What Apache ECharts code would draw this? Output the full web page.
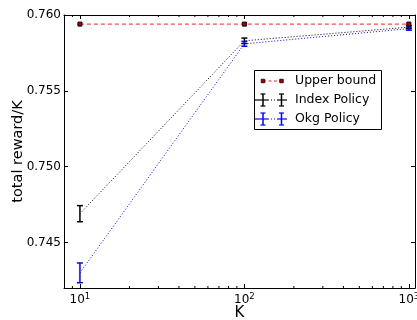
<!DOCTYPE html>
<html><head><meta charset="utf-8">
<script src="https://cdn.jsdelivr.net/npm/echarts@6/dist/echarts.min.js"></script>
<style>html,body{margin:0;padding:0;background:#fff}#c{width:417px;height:320px}</style>
</head><body><div id="c"></div>
<script>
const kValues = [10, 100, 1000];
const upperBound = [0.7594, 0.7594, 0.7594];
const indexMean = [0.7469, 0.7583, 0.7592];
const indexErr = [0.00053, 0.00018, 0.0001];
const okgMean = [0.7430, 0.7581, 0.7591];
const okgErr = [0.00065, 0.00016, 0.0001];
const yTicks = [0.745, 0.750, 0.755, 0.760];
const xMinorTicks = [9, 20, 30, 40, 50, 60, 70, 80, 90, 200, 300, 400, 500, 600, 700, 800, 900];
const legendNames = ['Upper bound', 'Index Policy', 'Okg Policy'];

const FONT = 'DejaVu Sans';
const X_MIN = 8, X_MAX = 1090, Y_MIN = 0.742, Y_MAX = 0.760;
const C_UB = '#ee2222', C_IDX = '#000000', C_OKG = '#0000ff';

function pairs(xs, ys) { return xs.map((x, i) => [x, ys[i]]); }
function triples(xs, ys, es) { return xs.map((x, i) => [x, ys[i], es[i]]); }

function errRender(color) {
  return function (params, api) {
    const x = api.value(0), y = api.value(1), e = api.value(2);
    const t = api.coord([x, y + e]), b = api.coord([x, y - e]);
    const w = 3;
    const st = { stroke: color, lineWidth: 1.5 };
    return { type: 'group', children: [
      { type: 'line', shape: { x1: t[0], y1: t[1], x2: b[0], y2: b[1] }, style: st },
      { type: 'line', shape: { x1: t[0] - w, y1: t[1], x2: t[0] + w, y2: t[1] }, style: st },
      { type: 'line', shape: { x1: b[0] - w, y1: b[1], x2: b[0] + w, y2: b[1] }, style: st }
    ]};
  };
}

function minorRender(params, api) {
  const cs = params.coordSys;
  const x = api.coord([api.value(0), Y_MIN])[0];
  const st = { stroke: '#000', lineWidth: 1 };
  return { type: 'group', children: [
    { type: 'line', shape: { x1: x, y1: cs.y + cs.height, x2: x, y2: cs.y + cs.height - 2 }, style: st },
    { type: 'line', shape: { x1: x, y1: cs.y, x2: x, y2: cs.y + 2 }, style: st }
  ]};
}

// ---- legend drawn as graphic (box + icons + real text) ----
const LG = { x: 254, y: 70, w: 127, h: 59, rows: [81, 100, 119], m1: 263, m2: 281.5, textX: 295 };
function lineEl(x1, y1, x2, y2, color, w, dash) {
  return { type: 'line', z: 101, shape: { x1, y1, x2, y2 }, style: { stroke: color, lineWidth: w, lineDash: dash || null } };
}
function crossIcon(cy, color) {
  const els = [
    lineEl(255, cy, 268, cy, color, 1.2),
    lineEl(268, cy, 277, cy, color, 1, [1, 2]),
    lineEl(277, cy, 287, cy, color, 1.2)
  ];
  [LG.m1, LG.m2].forEach(mx => {
    els.push(lineEl(mx, cy - 6, mx, cy + 6, color, 1.5));
    els.push(lineEl(mx - 2.5, cy - 6, mx + 2.5, cy - 6, color, 1.2));
    els.push(lineEl(mx - 2.5, cy + 6, mx + 2.5, cy + 6, color, 1.2));
  });
  return els;
}
function ubIcon(cy) {
  const els = [lineEl(LG.m1, cy, LG.m2, cy, C_UB, 1, [3, 2.5])];
  [LG.m1, LG.m2].forEach(mx => {
    els.push({ type: 'rect', z: 102, shape: { x: mx - 1.75, y: cy - 1.75, width: 3.5, height: 3.5 },
      style: { fill: '#aa0000', stroke: '#000', lineWidth: 0.8 } });
  });
  return els;
}
const legendGraphic = [].concat(
  [{ type: 'rect', z: 100, shape: { x: LG.x + 0.5, y: LG.y + 0.5, width: LG.w, height: LG.h },
    style: { fill: '#fff', stroke: '#000', lineWidth: 1 } }],
  ubIcon(LG.rows[0]), crossIcon(LG.rows[1], C_IDX), crossIcon(LG.rows[2], C_OKG),
  legendNames.map((n, i) => ({ type: 'text', z: 101, x: LG.textX, y: LG.rows[i],
    style: { text: n, fontFamily: FONT, fontSize: 12.5, fill: '#000', verticalAlign: 'middle', align: 'left' } }))
);

function xLabel(v) {
  const e = Math.round(Math.log10(v));
  if (Math.abs(Math.log10(v) - e) > 1e-6) return '';
  return '{b|10}{s|' + e + '}';
}

const chart = echarts.init(document.getElementById('c'), null, { renderer: 'canvas' });
chart.setOption({
  animation: false,
  backgroundColor: '#fff',
  textStyle: { fontFamily: FONT },
  grid: { left: 64, right: 2, top: 15, bottom: 32, containLabel: false, outerBoundsMode: 'none' },
  graphic: { elements: legendGraphic },
  xAxis: [{
    type: 'log', logBase: 10, min: X_MIN, max: X_MAX,
    name: 'K', nameLocation: 'middle', nameGap: 18, nameMoveOverlap: false,
    nameTextStyle: { fontFamily: FONT, fontSize: 15, color: '#000' },
    axisLine: { lineStyle: { color: '#000', width: 1 } },
    axisTick: { inside: true, length: 4, lineStyle: { color: '#000' } },
    axisLabel: {
      margin: 4, formatter: xLabel, showMinLabel: false, showMaxLabel: true, hideOverlap: false,
      rich: {
        b: { fontFamily: FONT, fontSize: 12, color: '#000' },
        s: { fontFamily: FONT, fontSize: 8.5, color: '#000', padding: [0, 0, 7, 0] }
      }
    },
    splitLine: { show: false }, minorTick: { show: false }
  }, {
    type: 'log', logBase: 10, min: X_MIN, max: X_MAX, position: 'top',
    axisLine: { lineStyle: { color: '#000', width: 1 } },
    axisTick: { inside: true, length: 4, lineStyle: { color: '#000' } },
    axisLabel: { show: false }, splitLine: { show: false }
  }],
  yAxis: [{
    type: 'value', min: Y_MIN, max: Y_MAX, splitNumber: 4,
    name: 'total reward/K', nameLocation: 'middle', nameGap: 38, nameRotate: 90, nameMoveOverlap: false,
    nameTextStyle: { fontFamily: FONT, fontSize: 14.5, color: '#000' },
    axisLine: { show: true, lineStyle: { color: '#000', width: 1 } },
    axisTick: { inside: true, length: 4, lineStyle: { color: '#000' } },
    axisLabel: {
      margin: 3, fontFamily: FONT, fontSize: 12, color: '#000',
      formatter: function (v) {
        return yTicks.some(t => Math.abs(t - v) < 1e-9) ? v.toFixed(3) : '';
      }
    },
    splitLine: { show: false }
  }, {
    type: 'value', min: Y_MIN, max: Y_MAX, splitNumber: 4, position: 'right',
    axisLine: { show: true, lineStyle: { color: '#000', width: 1 } },
    axisTick: { inside: true, length: 4, lineStyle: { color: '#000' } },
    axisLabel: { show: false }, splitLine: { show: false }
  }],
  series: [
    {
      name: 'minor', type: 'custom', renderItem: minorRender, silent: true,
      data: xMinorTicks.map(v => [v, Y_MIN]), z: 1, clip: false
    },
    {
      name: legendNames[1], type: 'line', data: pairs(kValues, indexMean),
      lineStyle: { color: C_IDX, width: 1, type: [1, 2] }, itemStyle: { color: C_IDX },
      symbol: 'none', z: 2
    },
    {
      name: legendNames[2], type: 'line', data: pairs(kValues, okgMean),
      lineStyle: { color: C_OKG, width: 1, type: [1, 2] }, itemStyle: { color: C_OKG },
      symbol: 'none', z: 2
    },
    {
      name: legendNames[1], type: 'custom', renderItem: errRender(C_IDX),
      data: triples(kValues, indexMean, indexErr), itemStyle: { color: C_IDX }, z: 3
    },
    {
      name: legendNames[2], type: 'custom', renderItem: errRender(C_OKG),
      data: triples(kValues, okgMean, okgErr), itemStyle: { color: C_OKG }, z: 3
    },
    {
      name: legendNames[0], type: 'line', data: pairs(kValues, upperBound),
      lineStyle: { color: C_UB, width: 1, type: [4, 3] },
      itemStyle: { color: '#aa0000', borderColor: '#000', borderWidth: 1 },
      symbol: 'rect', symbolSize: 4, z: 4
    }
  ]
});
</script></body></html>
